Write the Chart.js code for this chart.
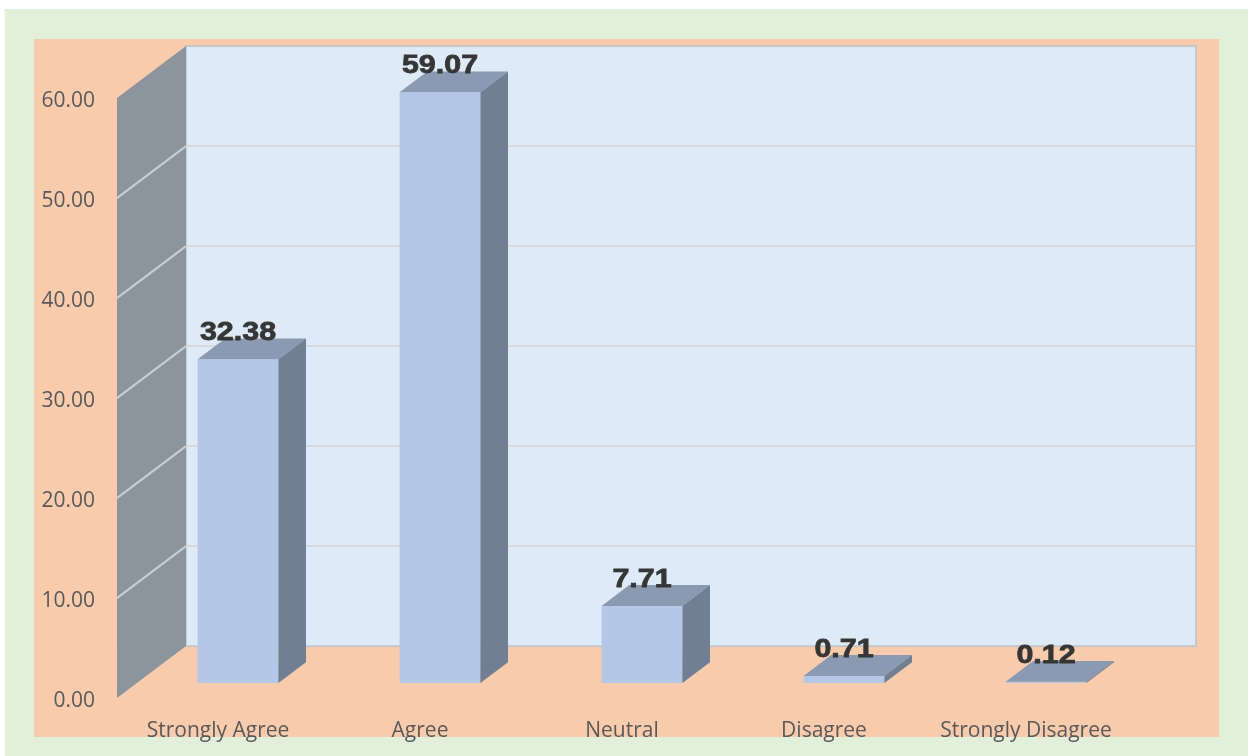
<!DOCTYPE html>
<html>
<head>
<meta charset="utf-8">
<script src="https://cdn.jsdelivr.net/npm/chart.js@4.4.1/dist/chart.umd.min.js"></script>
<style>
  html, body { margin:0; padding:0; background:#fff; }
  #wrap { width:1251px; height:756px; }
</style>
</head>
<body>
<div id="wrap"><canvas id="chart" width="1251" height="756"></canvas></div>
<script>
const CATEGORIES = ["Strongly Agree", "Agree", "Neutral", "Disagree", "Strongly Disagree"];
const VALUES = [32.38, 59.07, 7.71, 0.71, 0.12];
const Y_TICKS = [0, 10, 20, 30, 40, 50, 60];

// 3d look: full floor depth and where the bars sit inside it
const DEPTH = { dx: 69, dy: -52 };
const BAR_FRONT = 0.29;
const BAR_DEPTH = 0.40;

const C = {
  page: "#E2EFDA",
  plot: "#F8CBAD",
  backWall: "#DEEAF7",
  sideWall: "#8C959E",
  grid: "#D9D9D9",
  sideGrid: "#C9CED3",
  front: "#B4C7E7",
  top: "#8A9AB2",
  side: "#717F94",
  text: "#595959",
  label: "#363636"
};

function offsets(){
  return {
    front: { dx: -DEPTH.dx * BAR_FRONT, dy: -DEPTH.dy * BAR_FRONT },
    back: { dx: DEPTH.dx * (1 - BAR_FRONT), dy: DEPTH.dy * (1 - BAR_FRONT) }
  };
}

const threeD = {
  id: "threeD",
  beforeDraw(chart){
    const ctx = chart.ctx;
    const a = chart.chartArea;
    const y = chart.scales.y;
    const { front, back } = offsets();

    ctx.save();
    ctx.fillStyle = "#fff";
    ctx.fillRect(0, 0, chart.width, chart.height);
    ctx.fillStyle = C.page;
    ctx.fillRect(5, 9, 1243, 747);
    ctx.fillStyle = C.plot;
    ctx.fillRect(34, 39, 1185, 698);

    const yTop = y.getPixelForValue(y.max);
    const yBot = y.getPixelForValue(y.min);
    const fx = a.left + front.dx;
    const bx = a.left + back.dx;
    const rx = a.right + back.dx;

    // back wall
    ctx.fillStyle = C.backWall;
    ctx.fillRect(bx, yTop + back.dy, rx - bx, yBot - yTop);
    ctx.strokeStyle = "rgba(170,182,196,0.55)";
    ctx.lineWidth = 2;
    ctx.strokeRect(bx, yTop + back.dy, rx - bx, yBot - yTop);

    // side wall
    ctx.fillStyle = C.sideWall;
    ctx.beginPath();
    ctx.moveTo(fx, yTop + front.dy);
    ctx.lineTo(bx, yTop + back.dy);
    ctx.lineTo(bx, yBot + back.dy);
    ctx.lineTo(fx, yBot + front.dy);
    ctx.closePath();
    ctx.fill();

    // gridlines
    y.ticks.forEach(t => {
      if(t.value <= y.min || t.value >= y.max) return;
      const p = y.getPixelForValue(t.value);
      ctx.lineWidth = 2;
      ctx.strokeStyle = C.sideGrid;
      ctx.beginPath();
      ctx.moveTo(fx, p + front.dy);
      ctx.lineTo(bx, p + back.dy);
      ctx.stroke();
      ctx.strokeStyle = C.grid;
      ctx.beginPath();
      ctx.moveTo(bx, p + back.dy);
      ctx.lineTo(rx, p + back.dy);
      ctx.stroke();
    });
    ctx.restore();
  },
  afterDatasetsDraw(chart){
    const ctx = chart.ctx;
    const meta = chart.getDatasetMeta(0);
    const dx = DEPTH.dx * BAR_DEPTH;
    const dy = DEPTH.dy * BAR_DEPTH;
    meta.data.forEach((bar, i) => {
      const { x, y, base, width } = bar.getProps(["x", "y", "base", "width"], true);
      const x0 = x - width / 2, x1 = x + width / 2;
      ctx.save();
      // top face
      ctx.fillStyle = C.top;
      ctx.beginPath();
      ctx.moveTo(x0, y);
      ctx.lineTo(x1, y);
      ctx.lineTo(x1 + dx, y + dy);
      ctx.lineTo(x0 + dx, y + dy);
      ctx.closePath();
      ctx.fill();
      // side face
      ctx.fillStyle = C.side;
      ctx.beginPath();
      ctx.moveTo(x1, y);
      ctx.lineTo(x1 + dx, y + dy);
      ctx.lineTo(x1 + dx, base + dy);
      ctx.lineTo(x1, base);
      ctx.closePath();
      ctx.fill();
      // value label (slightly widened bold sans)
      ctx.translate(x, y - 19);
      ctx.scale(1.17, 1);
      ctx.fillStyle = C.label;
      ctx.strokeStyle = C.label;
      ctx.lineWidth = 0.8;
      ctx.font = 'bold 26px "Liberation Sans", Arial, sans-serif';
      ctx.textAlign = "center";
      ctx.textBaseline = "alphabetic";
      const txt = VALUES[i].toFixed(2);
      ctx.fillText(txt, 0, 0);
      ctx.strokeText(txt, 0, 0);
      ctx.restore();
    });
  }
};

new Chart(document.getElementById("chart"), {
  type: "bar",
  data: {
    labels: CATEGORIES,
    datasets: [{
      data: VALUES,
      backgroundColor: C.front,
      borderWidth: 0,
      barPercentage: 0.4,
      categoryPercentage: 1
    }]
  },
  options: {
    responsive: false,
    animation: false,
    devicePixelRatio: 1,
    layout: { padding: { left: 0, right: 104, top: 83, bottom: 0 } },
    plugins: { legend: { display: false }, tooltip: { enabled: false } },
    scales: {
      x: {
        grid: { display: false, drawTicks: false },
        border: { display: false },
        ticks: {
          padding: 35,
          labelOffset: -20,
          color: C.text,
          font: { family: '"Open Sans"', size: 21 }
        },
        afterFit(s){ s.height = 73; }
      },
      y: {
        min: Y_TICKS[0],
        max: Y_TICKS[Y_TICKS.length - 1],
        grid: { display: false, drawTicks: false },
        border: { display: false },
        ticks: {
          stepSize: Y_TICKS[1] - Y_TICKS[0],
          padding: 42,
          labelOffset: 18,
          color: C.text,
          font: { family: '"Open Sans"', size: 21 },
          callback: v => Number(v).toFixed(2)
        },
        afterFit(s){ s.width = 137; }
      }
    }
  },
  plugins: [threeD]
});
</script>
</body>
</html>
